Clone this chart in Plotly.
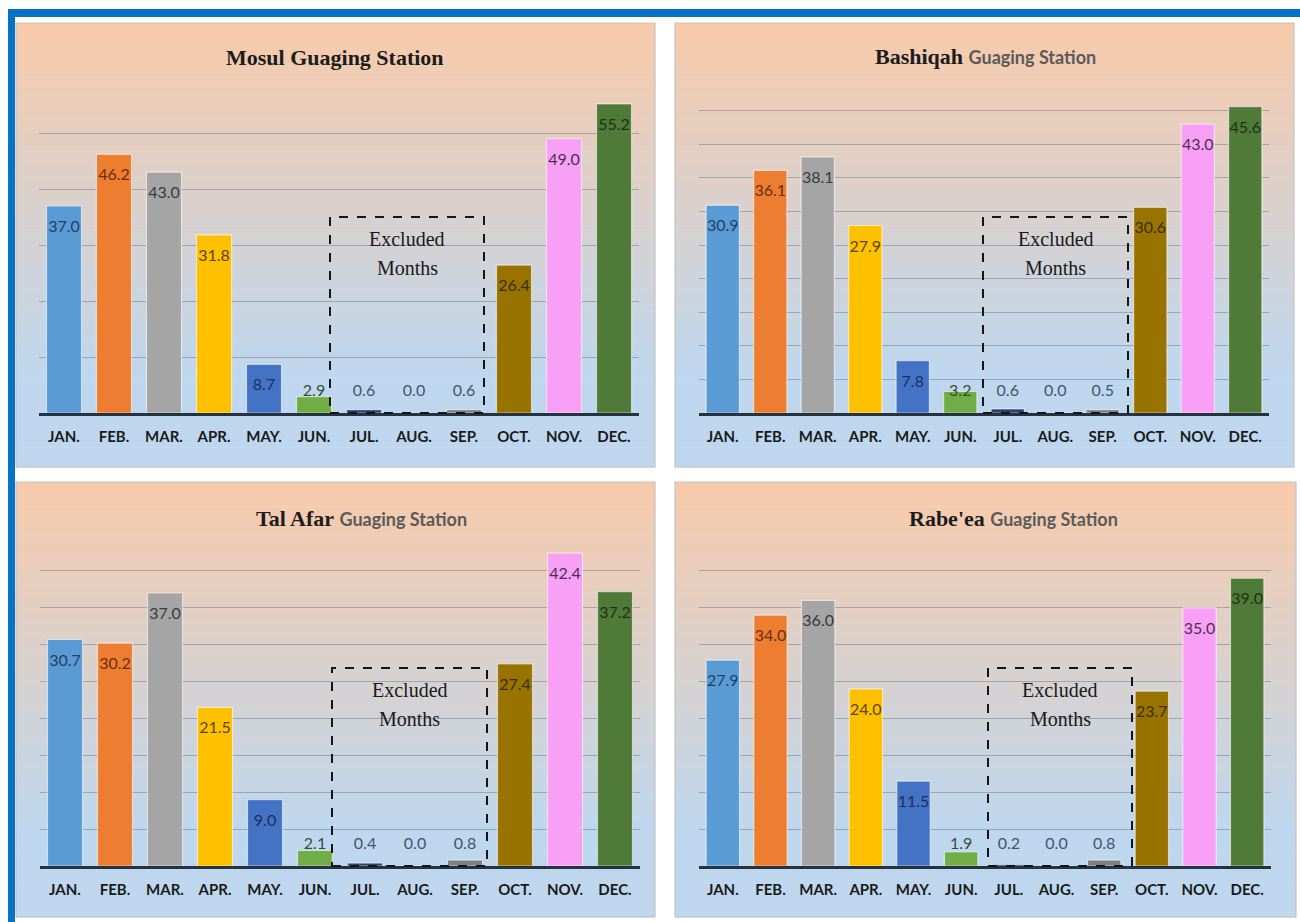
import plotly.graph_objects as go

W, H = 1300, 922

months = ["JAN.", "FEB.", "MAR.", "APR.", "MAY.", "JUN.", "JUL.", "AUG.", "SEP.", "OCT.", "NOV.", "DEC."]
mosul = [37.0, 46.2, 43.0, 31.8, 8.7, 2.9, 0.6, 0.0, 0.6, 26.4, 49.0, 55.2]
bashiqah = [30.9, 36.1, 38.1, 27.9, 7.8, 3.2, 0.6, 0.0, 0.5, 30.6, 43.0, 45.6]
tal_afar = [30.7, 30.2, 37.0, 21.5, 9.0, 2.1, 0.4, 0.0, 0.8, 27.4, 42.4, 37.2]
rabeea = [27.9, 34.0, 36.0, 24.0, 11.5, 1.9, 0.2, 0.0, 0.8, 23.7, 35.0, 39.0]

bar_colors = ["#5B9BD5", "#ED7D31", "#A5A5A5", "#FFC000", "#4472C4", "#70AD47",
              "#264478", "#9E480E", "#7F7F7F", "#997300", "#F7A0F5", "#4F7A38"]
label_colors = ["#1F3F66", "#6B2E0A", "#3A3A3A", "#5A4500", "#1F2F5C", "#3A4A3A",
                "#44546A", "#44546A", "#44546A", "#3A2E00", "#4A3050", "#1E3314"]


def px(x):
    return x / W


def py(y):
    return 1 - y / H


panels = [
    dict(values=mosul, ymax=60, dtick=10,
         box=(16, 23, 655, 467), plot=(39, 639, 77, 413),
         title=("Mosul Guaging Station", None), title_xy=(335, 57),
         excl=(330, 217, 484, 413)),
    dict(values=bashiqah, ymax=50, dtick=5,
         box=(675, 23, 1294, 467), plot=(699, 1269, 77, 413),
         title=("Bashiqah", "Guaging Station"), title_xy=(985, 56),
         excl=(983, 217, 1128, 413)),
    dict(values=tal_afar, ymax=45, dtick=5,
         box=(16, 482, 655, 917), plot=(40, 640, 534, 866),
         title=("Tal Afar", "Guaging Station"), title_xy=(361, 518),
         excl=(332, 668, 487, 866)),
    dict(values=rabeea, ymax=45, dtick=5,
         box=(675, 482, 1296, 917), plot=(699, 1271, 534, 866),
         title=("Rabe'ea", "Guaging Station"), title_xy=(1013, 518),
         excl=(988, 668, 1132, 866)),
]

peach = (248, 202, 170)
blue = (190, 215, 238)


def grad(t):
    u = min(1.0, t / 0.8)
    c = [round(peach[k] + (blue[k] - peach[k]) * u) for k in range(3)]
    return "rgb(%d,%d,%d)" % tuple(c)


fig = go.Figure()
shapes = []
annotations = []
layout_axes = {}

for i, p in enumerate(panels):
    n = i + 1
    xa = "x" if n == 1 else "x%d" % n
    ya = "y" if n == 1 else "y%d" % n
    xl0, xl1, yt, yb = p["plot"]
    s = (yb - yt) / p["ymax"]  # px per unit
    vals = p["values"]

    # background gradient bands
    bx0, by0, bx1, by1 = p["box"]
    N = 90
    hgt = (by1 - by0) / N
    for k in range(N):
        shapes.append(dict(type="rect", xref="paper", yref="paper",
                           x0=px(bx0), x1=px(bx1),
                           y0=py(by0 + k * hgt), y1=py(by0 + (k + 1) * hgt + 0.6),
                           fillcolor=grad((k + 0.5) / N), line=dict(width=0),
                           layer="below"))
    shapes.append(dict(type="rect", xref="paper", yref="paper",
                       x0=px(bx0), x1=px(bx1), y0=py(by0), y1=py(by1),
                       line=dict(color="#C4C4C4", width=1.2), fillcolor="rgba(0,0,0,0)",
                       layer="below"))

    fig.add_trace(go.Bar(
        x=months, y=vals, xaxis=xa, yaxis=ya,
        marker=dict(color=bar_colors, line=dict(color="rgba(255,255,255,0.55)", width=1.2)),
        showlegend=False, hoverinfo="x+y"))

    label_y = [max(v - 22 / s, 21 / s) for v in vals]
    fig.add_trace(go.Scatter(
        x=months, y=label_y, xaxis=xa, yaxis=ya, mode="text",
        text=["%.1f" % v for v in vals],
        textfont=dict(family="Lato, Open Sans, sans-serif", size=16, color=label_colors),
        showlegend=False, hoverinfo="skip", cliponaxis=False))

    key = "" if n == 1 else str(n)
    layout_axes["xaxis" + key] = dict(
        domain=[px(xl0), px(xl1)], anchor=ya, type="category",
        range=[-0.5, 11.5], showgrid=False, zeroline=False,
        showline=True, linecolor="#27323F", linewidth=3,
        ticks="", ticklabelstandoff=8,
        tickfont=dict(family="Lato, sans-serif", size=15, color="#1A1A1A", weight="bold"),
        fixedrange=True)
    layout_axes["yaxis" + key] = dict(
        domain=[py(yb), py(yt)], anchor=xa, range=[0, p["ymax"]],
        dtick=p["dtick"], showgrid=True, gridcolor="rgba(95,108,125,0.45)", gridwidth=1,
        showticklabels=False, zeroline=False, showline=False, ticks="",
        fixedrange=True)

    # dashed "excluded" box
    ex0, ey0, ex1, ey1 = p["excl"]
    shapes.append(dict(type="rect", xref="paper", yref="paper",
                       x0=px(ex0), x1=px(ex1), y0=py(ey1), y1=py(ey0),
                       line=dict(color="#151515", width=2, dash="dash"),
                       fillcolor="rgba(0,0,0,0)", layer="above"))
    cx = (ex0 + ex1) / 2
    annotations.append(dict(xref="paper", yref="paper", x=px(cx), y=py(ey0 + 22),
                            text="Excluded", showarrow=False, xanchor="center", yanchor="middle",
                            font=dict(family="Liberation Serif, serif", size=20, color="#1A1A1A")))
    annotations.append(dict(xref="paper", yref="paper", x=px(cx), y=py(ey0 + 51),
                            text="Months", showarrow=False, xanchor="center", yanchor="middle",
                            font=dict(family="Liberation Serif, serif", size=20, color="#1A1A1A")))

    # title
    t1, t2 = p["title"]
    if t2 is None:
        ttxt = "<b>%s</b>" % t1
    else:
        ttxt = ("<b>%s</b> <span style='font-family:Lato, sans-serif; font-size:18px; "
                "font-weight:bold; color:#5A5A5A'>%s</span>") % (t1, t2)
    tx, ty = p["title_xy"]
    annotations.append(dict(xref="paper", yref="paper", x=px(tx), y=py(ty),
                            text=ttxt, showarrow=False, xanchor="center", yanchor="middle",
                            font=dict(family="Liberation Serif, serif", size=22, color="#1C1C1C")))

# blue frame (top and left)
shapes.append(dict(type="rect", xref="paper", yref="paper", x0=px(8), x1=px(1300),
                   y0=py(17), y1=py(9), fillcolor="#0872C4", line=dict(width=0), layer="above"))
shapes.append(dict(type="rect", xref="paper", yref="paper", x0=px(8), x1=px(15),
                   y0=py(922), y1=py(9), fillcolor="#0872C4", line=dict(width=0), layer="above"))

fig.update_layout(
    width=W, height=H, autosize=False,
    margin=dict(l=0, r=0, t=0, b=0),
    paper_bgcolor="white", plot_bgcolor="rgba(0,0,0,0)",
    bargap=0.3, showlegend=False,
    shapes=shapes, annotations=annotations,
    **layout_axes)

fig.write_html("out.html")
